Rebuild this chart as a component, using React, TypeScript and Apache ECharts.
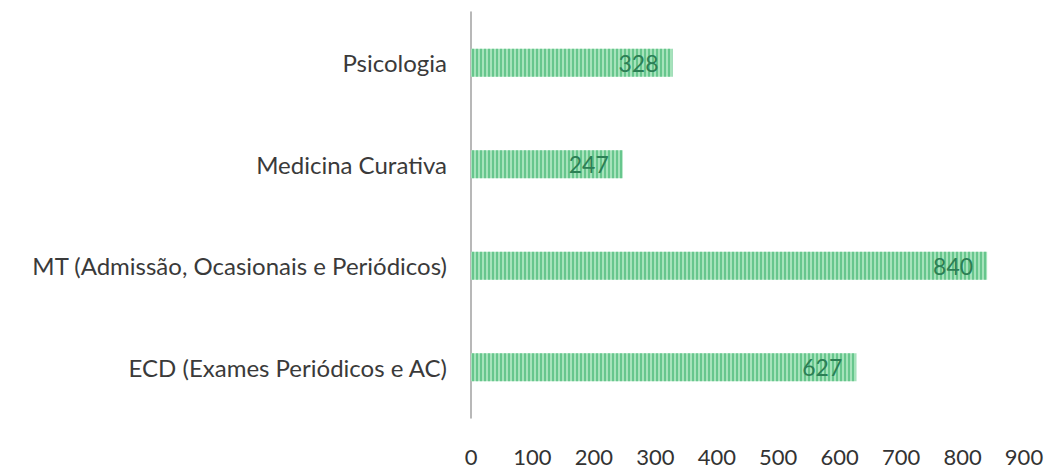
import React, { useEffect, useRef } from "react";
import * as echarts from "echarts";

const categories = [
  "ECD (Exames Periódicos e AC)",
  "MT (Admissão, Ocasionais e Periódicos)",
  "Medicina Curativa",
  "Psicologia",
];
const values = [627, 840, 247, 328];
const xTicks = [0, 900, 100];

export default function App() {
  const ref = useRef<HTMLDivElement>(null);
  useEffect(() => {
    if (!ref.current) return;
    const chart = echarts.init(ref.current, null, { renderer: "svg" });
    chart.setOption({
      animation: false,
      grid: { left: 471, right: 25, top: 12, bottom: 51, containLabel: false },
      xAxis: {
        type: "value",
        min: xTicks[0],
        max: xTicks[1],
        interval: xTicks[2],
        splitLine: { show: false },
        axisLine: { show: false },
        axisTick: { show: false },
        axisLabel: {
          color: "#333",
          fontSize: 22,
          fontFamily: "Lato",
          margin: 27,
        },
      },
      yAxis: {
        type: "category",
        data: categories,
        axisLine: { show: true, lineStyle: { color: "#a0a0a0", width: 1.5 } },
        axisTick: { show: false },
        axisLabel: {
          color: "#3a3a3a",
          fontSize: 24,
          fontFamily: "Lato",
          margin: 24,
        },
      },
      series: [
        {
          type: "bar",
          data: values,
          barWidth: 28,
          itemStyle: {
            color: "#a6e3bb",
            decal: {
              symbol: "rect",
              symbolSize: 1,
              dashArrayX: [2, 2],
              dashArrayY: [4, 0],
              rotation: 0,
              color: "rgba(40,170,95,0.5)",
            },
          },
          label: {
            show: true,
            position: "insideRight",
            distance: 14,
            color: "#2c7f55",
            fontSize: 23,
            fontFamily: "Lato",
          },
        },
      ],
    });
    return () => chart.dispose();
  }, []);
  return (
    <div
      ref={ref}
      style={{ position: "absolute", left: 0, top: 0, width: 1049, height: 469, background: "#fff" }}
    />
  );
}
